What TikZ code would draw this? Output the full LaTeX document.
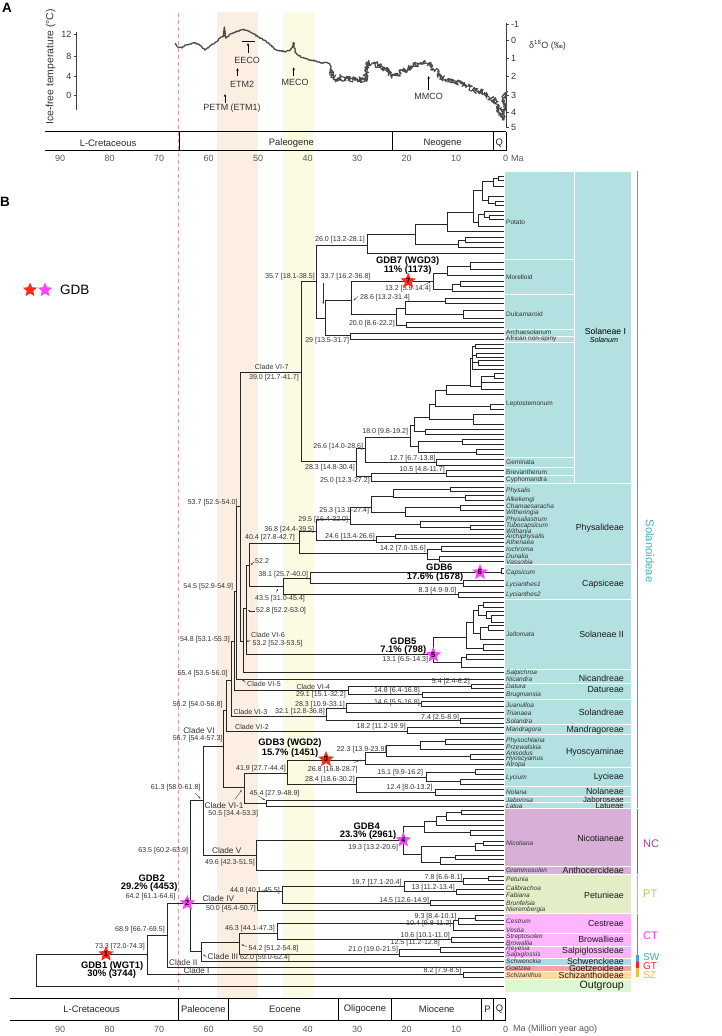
\documentclass[tikz,border=0pt]{standalone}
\usepackage{fontspec}
\setmainfont{Liberation Sans}
\usetikzlibrary{arrows.meta, shapes.geometric, decorations.pathmorphing}
\definecolor{bandorange}{HTML}{FDEEE2}
\definecolor{bandyellow}{HTML}{FBFAE3}
\definecolor{kpgline}{HTML}{E59A9A}
\definecolor{curvegray}{HTML}{4A4A4A}
\definecolor{inkgray}{HTML}{333333}
\definecolor{solbox}{HTML}{B3E0E0}
\definecolor{solbar}{HTML}{3BB4B6}
\definecolor{ncbox}{HTML}{D7AFD7}
\definecolor{ncbar}{HTML}{A83CA8}
\definecolor{ptbox}{HTML}{E3EEC6}
\definecolor{ptbar}{HTML}{A8CC55}
\definecolor{ctbox}{HTML}{FFB4FF}
\definecolor{ctbar}{HTML}{FF33FF}
\definecolor{swbox}{HTML}{AEDAE8}
\definecolor{swbar}{HTML}{35A9DE}
\definecolor{gtbox}{HTML}{F5A3A3}
\definecolor{gtbar}{HTML}{FF2222}
\definecolor{szbox}{HTML}{FDD9A3}
\definecolor{szbar}{HTML}{FDB24A}
\definecolor{outbox}{HTML}{DCF7D2}
\definecolor{starred}{HTML}{FF2A1A}
\definecolor{starmag}{HTML}{FF44FF}
% one bifurcation: parent x, upper y, upper child x, lower y, lower child x
\newcommand{\clade}[5]{\draw[branch] (#3,#2) -| (#1,#4) -- (#5,#4);}
\def\tx{503.5}

\begin{document}
\begin{tikzpicture}[x=1pt, y=-1pt,
    branch/.style={line width=0.75pt, draw=black!85},
    agelab/.style={font=\fontsize{7.1}{8}\selectfont, text=inkgray, inner sep=0pt},
    cladelab/.style={font=\fontsize{8.2}{9}\selectfont, text=inkgray, inner sep=0pt},
    gdblab/.style={font=\bfseries\fontsize{9.4}{10}\selectfont, inner sep=0pt},
    tiplab/.style={font=\fontsize{6.5}{7}\selectfont, text=inkgray, inner sep=0pt, anchor=west},
    tribelab/.style={font=\fontsize{8.8}{9}\selectfont, text=black!90, inner sep=0pt, anchor=east},
    grplab/.style={font=\fontsize{11}{12}\selectfont, inner sep=0pt, anchor=west},
    eralab/.style={font=\fontsize{9.4}{10}\selectfont, text=black!85, inner sep=0pt},
    ticklab/.style={font=\fontsize{9}{10}\selectfont, text=black!65, inner sep=0pt},
    evtlab/.style={font=\fontsize{9}{10}\selectfont, text=inkgray, inner sep=0pt},
    ptr/.style={-{Stealth[length=2.2pt,width=1.8pt]}, line width=0.35pt, draw=black!80},
    evtarrow/.style={-{Stealth[length=3pt,width=2.4pt]}, line width=0.5pt},
    gdbstar/.style={star, star points=5, star point ratio=2.2, inner sep=0pt, minimum size=15pt, font=\bfseries\fontsize{7.5}{7}\selectfont},
    wgdstar/.style={gdbstar, fill=starred},
    sdstar/.style={gdbstar, fill=starmag},
    tribebox/.style={draw=white, line width=0.7pt},
]
    \useasboundingbox (0,0) rectangle (722,1036);
    \def\ma{4.952}
    % Climate bands and K-Pg line
    \fill[bandorange] (216.5,11.7) rectangle (258,998);
    \fill[bandyellow] (282.7,11.7) rectangle (314,998);
    \draw[kpgline, line width=0.8pt, dash pattern=on 4pt off 3pt] (178.6,12.7) -- (178.6,992);

    % ---------------- Panel A ----------------
    \node[font=\bfseries\fontsize{13.5}{14}\selectfont, inner sep=0pt] at (7,8.3) {A};
    \node[font=\fontsize{10.4}{11}\selectfont, text=inkgray, rotate=90, inner sep=0pt] at (50.7,67) {Ice-free temperature (°C)};
    \draw[line width=0.6pt, black!75] (76,32.3) -- (76,110);
    \foreach \yy/\lab in {34.3/12, 56.7/8, 76.3/4, 95.3/0} {
        \draw[line width=0.6pt, black!75] (73.5,\yy) -- (76,\yy);
        \node[ticklab, text=inkgray, anchor=east] at (71.5,\yy) {\lab};
    }
    \draw[line width=0.6pt, black!75] (506,22.7) -- (506,127.3);
    \foreach \yy/\lab in {24/-1, 40.7/0, 58.3/1, 76.7/2, 95.3/3, 112/4, 127.3/5} {
        \draw[line width=0.6pt, black!75] (506,\yy) -- (509,\yy);
        \node[ticklab, text=inkgray, anchor=west] at (511,\yy) {\lab};
    }
    \node[ticklab, text=inkgray, anchor=west] at (529,45) {δ\textsuperscript{18}O (‰)};
    % Temperature curve
    \pgfmathsetseed{11}
    \draw[curvegray, line width=1.3pt, line join=round, decorate, decoration={random steps, segment length=1pt, amplitude=0.6pt}]
        plot coordinates {(175,43.3) (178,47) (182,48) (186,45) (190,44) (193.6,42.7) (198,44) (202,47) (205,50) (209,47) (213,44) (216.7,41.7) (220,38) (223,36) (224.5,27) (225.5,38) (229,35) (233,33) (237,31.7) (241,30) (244,29.3) (248,31) (252,33) (258,36.7) (264,40) (270,45) (276.6,50) (281,51) (285.8,51.7) (290,50) (292.5,47) (293.7,42.7) (295,52) (298,55) (304,58.3) (310,60) (316,61) (322.7,63.3) (326,62.5) (329.6,63.3) (331,68)};
    \draw[curvegray, line width=1.1pt, line join=round, decorate, decoration={random steps, segment length=0.6pt, amplitude=3pt}]
        plot coordinates {(331,68) (334,80) (340,77) (345,79) (350,78.3) (356,80) (360,79) (364,81.7) (366,72) (368.8,63.3) (375,64) (382.6,66.7) (386,70) (392,76.7) (398,74) (405.7,70) (412,66) (419.5,63.3) (424,62) (428.7,63.3) (435,70) (442.6,78.3) (450,80) (461,83.3) (468,86) (474.8,90) (481,92) (488.7,96.7) (494,100) (498,106) (500,113) (502.5,120) (504,105) (505,93)};
    % Climate events
    \draw[line width=0.8pt] (242,41.7) -- (254.5,41.7);
    \draw[evtarrow] (248,52.7) -- (248,43);
    \node[evtlab] at (247,60) {EECO};
    \draw[evtarrow] (237.5,76) -- (237.5,68);
    \node[evtlab] at (242,84.3) {ETM2};
    \draw[evtarrow] (225,103) -- (225,94);
    \node[evtlab] at (232,108.3) {PETM (ETM1)};
    \draw[evtarrow] (293.7,76) -- (293.7,67.3);
    \node[evtlab] at (295,82.3) {MECO};
    \draw[evtarrow] (428.7,90) -- (428.7,76);
    \node[evtlab] at (428.7,96.7) {MMCO};
    % Period bar
    \draw[line width=1.2pt] (44.7,131.7) -- (506,131.7);
    \draw[line width=0.6pt] (44.7,150.7) -- (506,150.7);
    \foreach \xx in {178.9, 391.8, 492.9, 506} {
        \draw[line width=0.6pt] (\xx,131.7) -- (\xx,150.7);
    }
    \node[eralab] at (108,143.3) {L-Cretaceous};
    \node[eralab] at (291.4,143.3) {Paleogene};
    \node[eralab] at (442.6,143.3) {Neogene};
    \node[eralab] at (499.4,143.3) {Q};
    \foreach \v in {0,10,...,90} {
        \node[ticklab] at ({505.7-\ma*\v},158.3) {\v};
    }
    \node[ticklab, anchor=west] at (511,158.3) {Ma};

    % ---------------- Panel B ----------------
    \node[font=\bfseries\fontsize{13.5}{14}\selectfont, inner sep=0pt] at (5,202) {B};
    \node[star, star points=5, star point ratio=2.2, inner sep=0pt, minimum size=15pt, fill=starred] at (30,290) {};
    \node[star, star points=5, star point ratio=2.2, inner sep=0pt, minimum size=15pt, fill=starmag] at (45,290) {};
    \node[font=\fontsize{13.5}{14}\selectfont, inner sep=0pt, anchor=west] at (60,290) {GDB};

    % Tribe boxes
    \filldraw[tribebox, fill=solbox] (504,171) rectangle (574,259);
    \filldraw[tribebox, fill=solbox] (504,259) rectangle (574,294.8);
    \filldraw[tribebox, fill=solbox] (504,294.8) rectangle (574,329);
    \filldraw[tribebox, fill=solbox] (504,329) rectangle (574,336.5);
    \filldraw[tribebox, fill=solbox] (504,336.5) rectangle (574,342.7);
    \filldraw[tribebox, fill=solbox] (504,342.7) rectangle (574,456.9);
    \filldraw[tribebox, fill=solbox] (504,456.9) rectangle (574,467.3);
    \filldraw[tribebox, fill=solbox] (504,467.3) rectangle (574,475);
    \filldraw[tribebox, fill=solbox] (504,475) rectangle (574,483.7);
    \filldraw[tribebox, fill=solbox] (574,171) rectangle (631,483.7);
    \foreach \ya/\yb in {483.7/564.7, 564.7/599.7, 599.7/669.7, 669.7/683, 683/699.5, 699.5/724.5, 724.5/734.7, 734.7/767.3, 767.3/786.5, 786.5/796.5, 796.5/802.8, 802.8/808.3} {
        \filldraw[tribebox, fill=solbox] (504,\ya) rectangle (631,\yb);
    }
    \filldraw[tribebox, fill=ncbox] (504,808.3) rectangle (631,866);
    \filldraw[tribebox, fill=ncbox] (504,866) rectangle (631,874.5);
    \filldraw[tribebox, fill=ptbox] (504,874.5) rectangle (631,913.3);
    \filldraw[tribebox, fill=ctbox] (504,913.3) rectangle (631,933.3);
    \filldraw[tribebox, fill=ctbox] (504,933.3) rectangle (631,946);
    \filldraw[tribebox, fill=ctbox] (504,946) rectangle (631,958);
    \filldraw[tribebox, fill=swbox] (504,958) rectangle (631,965);
    \filldraw[tribebox, fill=gtbox] (504,965) rectangle (631,971.8);
    \filldraw[tribebox, fill=szbox] (504,971.8) rectangle (631,979.3);
    \filldraw[tribebox, fill=outbox] (504,979.3) rectangle (631,992.7);

    % Subfamily bars
    \draw[solbar, line width=1.6pt] (637.5,171) -- (637.5,807.8);
    \draw[ncbar, line width=1.6pt] (637.5,808.8) -- (637.5,874);
    \draw[ptbar, line width=1.6pt] (637.5,875) -- (637.5,913);
    \draw[ctbar, line width=1.6pt] (637.5,914) -- (637.5,955);
    \draw[swbar, line width=2.6pt] (637.5,955) -- (637.5,961.7);
    \draw[gtbar, line width=2.6pt] (637.5,961.7) -- (637.5,968.3);
    \draw[szbar, line width=2.6pt] (637.5,968.3) -- (637.5,976.7);
    \node[font=\fontsize{11.3}{12}\selectfont, text=solbar, rotate=-90, inner sep=0pt] at (650,551) {Solanoideae};
    \node[grplab, text=ncbar] at (643,844) {NC};
    \node[grplab, text=ptbar] at (643,894) {PT};
    \node[grplab, text=ctbar] at (643,936) {CT};
    \node[grplab, text=swbar, font=\fontsize{10}{10}\selectfont] at (643,957.2) {SW};
    \node[grplab, text=gtbar, font=\fontsize{10}{10}\selectfont] at (643,966.2) {GT};
    \node[grplab, text=szbar, font=\fontsize{10}{10}\selectfont] at (643,975.2) {SZ};

    % Outgroup, Clades I-III
    \clade{36}{954}{147.7}{986}{\tx}
    \clade{147.7}{935}{167.7}{974.3}{463.3}
    \clade{463.3}{972.5}{\tx}{977}{\tx}
    \clade{167.7}{903}{190}{967.5}{\tx}
    \clade{190}{800}{203.3}{951.7}{201}
    \draw[branch] (190,903) -- (257.7,903);
    \clade{201}{942.7}{239.3}{961}{\tx}
    \clade{239.3}{933.3}{277.3}{954}{399.3}
    \clade{277.3}{923.5}{453.3}{939.5}{451.7}
    \clade{453.3}{920}{458.3}{930.5}{\tx}
    \clade{458.3}{918}{475}{924}{\tx}
    \clade{475}{915.5}{\tx}{920}{\tx}
    \clade{451.7}{937}{\tx}{942.5}{\tx}
    \clade{399.3}{949.5}{440.7}{956.5}{\tx}
    \clade{440.7}{947}{\tx}{952}{\tx}
    % Clade IV
    \clade{257.7}{891}{282.7}{910.5}{\tx}
    \clade{282.7}{886}{404.3}{903}{430.7}
    \clade{404.3}{881}{463.3}{891.5}{456.7}
    \clade{463.3}{878.5}{488.3}{884.5}{\tx}
    \clade{488.3}{876.8}{\tx}{880.3}{\tx}
    \clade{456.7}{889}{\tx}{894}{\tx}
    \clade{430.7}{900.5}{\tx}{905.5}{\tx}
    % Clade V
    \clade{203.3}{746.7}{223.3}{855.7}{256.7}
    \clade{256.7}{840}{403.3}{870.5}{\tx}
    \clade{403.3}{826}{424.3}{854}{421.7}
    \clade{424.3}{821}{436.7}{832.7}{470}
    \clade{436.7}{816}{446}{825.5}{\tx}
    \clade{446}{812.5}{461.7}{820}{\tx}
    \clade{461.7}{810.5}{\tx}{814.5}{\tx}
    \clade{470}{830}{\tx}{835.5}{\tx}
    \clade{421.7}{846}{475}{862}{440.7}
    \clade{475}{843}{483.3}{850}{\tx}
    \clade{483.3}{841}{\tx}{845}{\tx}
    \clade{440.7}{857.5}{455}{864}{\tx}
    \clade{455}{855.5}{\tx}{859.5}{\tx}
    % Clade VI backbone and VI-1
    \clade{223.3}{710}{226.7}{787.3}{244.3}
    \clade{244.3}{773.3}{287.7}{803}{266}
    \clade{266}{800.5}{\tx}{806}{\tx}
    \clade{287.7}{760}{365}{784}{356.7}
    \clade{365}{752}{386.7}{764}{\tx}
    \clade{386.7}{745}{420}{756.5}{470}
    \clade{420}{741.5}{445}{749.5}{\tx}
    \clade{445}{739}{\tx}{744}{\tx}
    \clade{470}{754}{\tx}{759}{\tx}
    \clade{356.7}{777.3}{426}{792}{435}
    \clade{426}{772}{475}{781.5}{460.7}
    \clade{475}{769.5}{\tx}{774}{\tx}
    \clade{460.7}{779}{\tx}{784.5}{\tx}
    \clade{435}{789.5}{\tx}{795}{\tx}
    % VI-2, VI-3, VI-4, VI-5
    \clade{226.7}{680}{231.7}{731.7}{407.3}
    \clade{407.3}{727.5}{\tx}{733}{\tx}
    \clade{231.7}{641.7}{234.5}{716}{326}
    \clade{326}{708}{346.7}{720.7}{460.7}
    \clade{346.7}{703.5}{421.7}{712}{\tx}
    \clade{421.7}{701.5}{\tx}{706}{\tx}
    \clade{460.7}{718.5}{\tx}{723}{\tx}
    \clade{234.5}{591.7}{236.7}{690.7}{348.3}
    \clade{348.3}{686.3}{471.7}{694.7}{422.7}
    \clade{471.7}{684}{\tx}{688.5}{\tx}
    \clade{422.7}{692.5}{\tx}{697}{\tx}
    \clade{236.7}{506.7}{240.7}{679}{\tx}
    % VI-6
    \clade{240.7}{372.3}{301}{641.7}{243.3}
    \clade{243.3}{608.3}{246}{672.7}{\tx}
    \clade{246}{565}{249.3}{654}{433.3}
    \clade{249.3}{543.3}{299}{586.7}{283.3}
    \clade{433.3}{637}{466}{662}{461.7}
    \clade{466}{622}{473.3}{648}{483.3}
    \clade{473.3}{610}{478.3}{633}{480}
    \clade{478.3}{605}{483.3}{615}{486}
    \clade{483.3}{602.5}{\tx}{607}{\tx}
    \clade{486}{611}{\tx}{618.5}{491}
    \clade{491}{615}{\tx}{622.5}{\tx}
    \clade{480}{627}{488}{639}{\tx}
    \clade{488}{625}{\tx}{630}{\tx}
    \clade{483.3}{644}{\tx}{650}{\tx}
    \clade{461.7}{657}{466.7}{667.5}{\tx}
    \clade{466.7}{654.5}{\tx}{659.5}{\tx}
    \clade{283.3}{578}{310}{594.7}{458.3}
    \clade{310}{572.3}{501}{583}{463.3}
    \clade{501}{568.5}{\tx}{573.5}{\tx}
    \clade{463.3}{580.5}{\tx}{586}{\tx}
    \clade{458.3}{592.5}{\tx}{597}{\tx}
    \clade{299}{531.7}{316.7}{553.3}{427}
    \clade{316.7}{519.3}{350}{540.5}{376}
    \clade{350}{507}{371.7}{524}{420}
    \clade{371.7}{496}{393.3}{512}{405}
    \clade{393.3}{489}{450}{497.8}{465}
    \clade{450}{487}{\tx}{491}{\tx}
    \clade{465}{495.5}{\tx}{500}{\tx}
    \clade{405}{507.5}{460}{516}{\tx}
    \clade{460}{505}{\tx}{510}{\tx}
    \clade{420}{521}{\tx}{527}{470}
    \clade{470}{525}{\tx}{529.5}{\tx}
    \clade{376}{536}{395}{542}{\tx}
    \clade{395}{534}{\tx}{538}{\tx}
    \clade{427}{549}{441}{559}{439}
    \clade{441}{546.5}{\tx}{551}{\tx}
    \clade{439}{556}{\tx}{561.5}{\tx}
    % VI-7 (Solanum)
    \clade{301}{281.7}{316.7}{461.7}{356.7}
    \clade{316.7}{245}{367.3}{318.3}{325}
    \clade{367.3}{234}{415}{253.3}{\tx}
    \clade{415}{224}{447.3}{244}{458.3}
    \clade{447.3}{212}{473.3}{231.5}{\tx}
    \clade{473.3}{190}{482.7}{222}{478}
    \clade{482.7}{181}{493.3}{200}{488}
    \clade{493.3}{178.5}{498.3}{186}{\tx}
    \clade{498.3}{176.5}{\tx}{180.5}{\tx}
    \clade{488}{196.5}{\tx}{203}{495}
    \clade{495}{201}{\tx}{205.5}{\tx}
    \clade{478}{214}{484}{226.5}{\tx}
    \clade{484}{211}{\tx}{217}{489}
    \clade{489}{215}{\tx}{219}{\tx}
    \clade{458.3}{240}{465}{247.7}{\tx}
    \clade{465}{237.5}{\tx}{242.5}{\tx}
    \clade{325}{300}{351.7}{335.5}{350}
    \clade{351.7}{281}{433.3}{314}{396}
    \clade{433.3}{273}{447.3}{289}{452}
    \clade{447.3}{266}{470}{275}{\tx}
    \clade{470}{262}{\tx}{269}{\tx}
    \clade{452}{284}{460}{291}{\tx}
    \clade{460}{281}{\tx}{286.5}{\tx}
    \clade{396}{308}{405}{325.5}{406.7}
    \clade{405}{301}{445}{314}{463}
    \clade{445}{298.5}{\tx}{303.5}{\tx}
    \clade{463}{310}{\tx}{318}{\tx}
    \clade{406.7}{322.5}{\tx}{327.5}{\tx}
    \clade{350}{333.3}{\tx}{339.5}{\tx}
    \clade{356.7}{448.3}{365}{476.7}{371.7}
    \clade{365}{437}{410.7}{462.5}{436.7}
    \clade{436.7}{459.5}{\tx}{465}{\tx}
    \clade{371.7}{473.5}{446.7}{481.5}{\tx}
    \clade{446.7}{470.5}{\tx}{476}{\tx}
    \clade{410.7}{425}{414}{446.5}{418.3}
    \clade{414}{417.5}{429.3}{431.5}{425}
    \clade{425}{429}{\tx}{434}{\tx}
    \clade{429.3}{404}{435}{419.3}{473.3}
    \clade{473.3}{414.5}{\tx}{424.3}{\tx}
    \clade{435}{390}{446.7}{406.7}{490}
    \clade{490}{404}{\tx}{409.3}{\tx}
    \clade{446.7}{385}{470}{394}{\tx}
    \clade{470}{358}{472.7}{386}{481.7}
    \draw[branch] (472.7,346) -- (472.7,369.5) -- (\tx,369.5);
    \draw[branch] (472.7,346) -- (475,346);
    \draw[branch] (472.7,355.3) -- (476.7,355.3);
    \draw[branch] (472.7,362.7) -- (478.3,362.7);
    \clade{475}{344}{\tx}{348.3}{\tx}
    \clade{476.7}{353}{\tx}{357.5}{\tx}
    \clade{478.3}{360.7}{\tx}{365}{\tx}
    \clade{481.7}{376}{494}{389}{\tx}
    \draw[branch] (481.7,382.5) -- (\tx,382.5);
    \clade{494}{373.5}{\tx}{378}{\tx}
    \clade{418.3}{441.5}{462.7}{452}{476.7}
    \clade{462.7}{439}{\tx}{444}{\tx}
    \clade{476.7}{449.5}{\tx}{454.5}{\tx}

    % Node ages (right end of text at node)
    \foreach \x/\y/\lab in {365/240/{26.0 [13.2-28.1]}, 315/276.7/{35.7 [18.1-38.5]}, 395/323.3/{20.0 [8.6-22.2]},
        349.3/340.7/{29 [13.5-31.7]}, 299/377.7/{39.0 [21.7-41.7]}, 408.3/431.7/{18.0 [9.8-19.2]},
        363.3/446.7/{26.6 [14.0-28.6]}, 435.7/458.3/{12.7 [6.7-13.8]}, 355/467.3/{28.3 [14.8-30.4]},
        445/469.3/{10.5 [4.8-11.7]}, 370/480.7/{25.0 [12.3-27.2]}, 237.7/502.3/{53.7 [52.5-54.0]},
        369.3/510.7/{25.3 [13.1-27.4]}, 348.3/519.3/{29.5 [16.4-32.0]}, 314.3/529.3/{36.8 [24.4-39.5]},
        295/537.3/{40.4 [27.8-42.7]}, 375/536.7/{24.6 [13.4-26.6]}, 426/549/{14.2 [7.0-15.6]},
        308.3/574.3/{38.1 [25.7-40.0]}, 233.3/586.7/{54.5 [52.9-54.9]}, 456.7/591/{8.3 [4.9-9.0]},
        230/640/{54.8 [53.1-55.3]}, 428.3/660/{13.1 [6.5-14.3]}, 227.7/674/{55.4 [53.5-56.0]},
        470/681.7/{5.4 [2.4-6.2]}, 420/690.7/{14.8 [6.4-16.8]}, 346/695/{29.1 [15.1-32.2]},
        420/702.7/{14.6 [5.5-16.8]}, 222.7/705/{56.2 [54.0-56.8]}, 345/705/{28.3 [10.9-33.1]},
        325/711.7/{32.1 [12.8-36.8]}, 459.3/717.3/{7.4 [2.5-8.9]}, 406/726.7/{18.2 [11.2-19.9]},
        222.7/738.3/{56.7 [54.4-57.3]}, 386.7/750/{22.3 [13.9-23.9]}, 286/768.3/{41.9 [27.7-44.4]},
        423.3/772.7/{15.1 [9.9-16.2]}, 355/780/{28.4 [18.6-30.2]}, 432.7/787.7/{12.4 [8.0-13.2]},
        200.7/788/{61.3 [58.0-61.8]}, 398.3/847.7/{19.3 [13.2-20.6]}, 188.3/850.7/{63.5 [60.2-63.9]},
        255/862.3/{49.6 [42.3-51.5]}, 462.7/877.7/{7.8 [6.6-8.1]}, 401.7/882.3/{19.7 [17.1-20.4]},
        455/887.7/{13 [11.2-13.4]}, 280/891/{44.8 [40.1-45.5]}, 175.7/896.7/{64.2 [61.1-64.6]},
        429.3/900.7/{14.5 [12.6-14.9]}, 256/908.3/{50.0 [45.4-50.7]}, 456.7/916.7/{9.3 [8.4-10.1]},
        451.7/923.3/{10.4 [9.8-11.2]}, 275/928.3/{46.3 [44.1-47.3]}, 165/929.3/{68.9 [66.7-69.5]},
        450/936/{10.6 [10.1-11.0]}, 440/942.7/{12.5 [11.2-12.8]}, 145/946.7/{73.3 [72.0-74.3]},
        398.3/949.3/{21.0 [19.0-21.5]}, 461.7/971/{8.2 [7.9-8.5]}} {
        \node[agelab, anchor=east] at (\x,\y) {\lab};
    }
    % Ages placed beside their node, with pointers
    \node[agelab, anchor=west] at (320.5,276.7) {33.7 [16.2-36.8]};
    \draw[ptr] (323.3,283) -- (323.3,304);
    \node[agelab, anchor=west] at (360,297.3) {28.6 [13.2-31.4]};
    \draw[ptr] (358,296.5) -- (353.5,300.5);
    \node[agelab, anchor=east] at (431,289) {13.2 [5.9-14.4]};
    \draw[ptr] (423.3,285.5) -- (430.5,281.8);
    \node[agelab, anchor=west] at (255,561) {52.2};
    \draw[ptr] (254.5,561.5) -- (250.8,564.8);
    \node[agelab, anchor=west] at (255,598.3) {43.5 [31.0-45.4]};
    \draw[ptr] (276.3,592.5) -- (278,588.8);
    \node[agelab, anchor=west] at (256,610.7) {52.8 [52.2-53.0]};
    \draw[ptr] (254.5,610.7) -- (248,610.7);
    \node[agelab, anchor=west] at (251,635) {Clade VI-6};
    \node[agelab, anchor=west] at (252.5,643.3) {53.2 [52.3-53.5]};
    \draw[ptr] (250.5,640.5) -- (246.5,641.5);
    \node[agelab, anchor=west] at (247,684) {Clade VI-5};
    \draw[ptr] (246,682.5) -- (242.2,679.8);
    \node[agelab, anchor=west] at (307.7,769.3) {26.8 [16.8-28.7]};
    \draw[ptr] (354,762.5) -- (362,760);
    \node[agelab, anchor=west] at (249.5,793.3) {45.4 [27.9-48.9]};
    \draw[ptr] (258.3,796) -- (265,800);
    \node[agelab, anchor=west] at (248.5,948.3) {54.2 [51.2-54.8]};
    \draw[ptr] (246.7,946.7) -- (241.5,944.5);
    \node[agelab, anchor=west] at (207.5,957.7) {{\fontsize{8.2}{9}\selectfont Clade III} 62.0 [59.0-62.4]};
    \draw[ptr] (206.7,957.3) -- (203.2,954.5);
    \draw[ptr] (195,793.3) -- (200.5,798.5);
    \draw[ptr] (235,799.3) -- (241.7,790);

    % Clade names
    \node[agelab] at (271.7,366.7) {Clade VI-7};
    \node[agelab] at (313.3,686.7) {Clade VI-4};
    \node[agelab, anchor=west] at (233.5,711.7) {Clade VI-3};
    \node[agelab, anchor=west] at (235,726.7) {Clade VI-2};
    \node[cladelab] at (199,730.7) {Clade VI};
    \node[cladelab] at (224,806) {Clade VI-1};
    \node[agelab] at (233.3,814) {50.5 [34.4-53.3]};
    \node[cladelab] at (226.7,850.7) {Clade V};
    \node[cladelab] at (218.3,898.3) {Clade IV};
    \node[cladelab] at (183.3,962.7) {Clade II};
    \node[cladelab] at (196.5,970.7) {Clade I};

    % GDB events
    \node[gdblab] at (407.7,261.3) {GDB7 (WGD3)};
    \node[gdblab] at (407.7,270) {11\% (1173)};
    \node[gdblab] at (439.3,567.7) {GDB6};
    \node[gdblab] at (435,577.5) {17.6\% (1678)};
    \node[gdblab] at (403.3,641) {GDB5};
    \node[gdblab] at (403.3,650) {7.1\% (798)};
    \node[gdblab] at (290,743.3) {GDB3 (WGD2)};
    \node[gdblab] at (290,753.5) {15.7\% (1451)};
    \node[gdblab] at (366.7,826.3) {GDB4};
    \node[gdblab] at (368,834.7) {23.3\% (2961)};
    \node[gdblab] at (151.7,878.3) {GDB2};
    \node[gdblab] at (149.2,887.3) {29.2\% (4453)};
    \node[gdblab] at (112.2,966) {GDB1 (WGT1)};
    \node[gdblab] at (111.7,974) {30\% (3744)};
    \node[wgdstar] at (408.3,281) {7};
    \node[sdstar] at (480,572.3) {6};
    \node[sdstar] at (433.3,655) {5};
    \node[wgdstar] at (326,759.3) {3};
    \node[sdstar] at (403.3,840) {4};
    \node[sdstar] at (187.3,903) {2};
    \node[wgdstar] at (106,954) {1};

    % Tip labels
    \foreach \y/\nm in {222.3/Potato, 276.7/Morelloid, 314.3/Dulcamaroid, 331.7/Archaesolanum, 339/African non-spiny,
        403.7/Leptostemonum, 462/Geminata, 472.3/Brevantherum, 479.7/Cyphomandra} {
        \node[tiplab] at (506,\y) {\nm};
    }
    \foreach \y/\nm in {491/Physalis, 500.3/Alkekengi, 506.3/Chamaesaracha, 513.3/Witheringia, 519.7/Physaliastrum,
        525.7/Tubocapsicum, 531.4/Withania, 536.8/Archiphysalis, 542.2/Athenaea, 548.7/Iochroma, 555.7/Dunalia,
        561.7/Vassobia, 572.7/Capsicum, 585.3/Lycianthes1, 595/Lycianthes2, 634/Jaltomata, 672.7/Salpichroa,
        678.7/Nicandra, 686/Datura, 695.3/Brugmansia, 705.3/Juanulloa, 713/Trianaea, 720.7/Solandra,
        730.3/Mandragora, 740.7/Physochlaina, 747.3/Przewalskia, 753.3/Anisodus, 758.7/Hyoscyamus,
        764.7/Atropa, 778.3/Lycium, 791.7/Nolana, 800/Jaborosa, 806/Latua, 842.7/Nicotiana,
        870.3/Grammosolen, 879.3/Petunia, 888.3/Calibrachoa, 895/Fabiana, 903.3/Brunfelsia,
        910/Nierembergia, 921.7/Cestrum, 930/Vestia, 936.7/Streptosolen, 942.7/Browallia, 949/Reyesia,
        955.3/Salpiglossis, 961/Schwenckia, 968/Goetzea, 975.3/Schizanthus} {
        \node[tiplab] at (506,\y) {\itshape\nm};
    }
    % Tribe labels
    \node[font=\fontsize{8.6}{9}\selectfont, inner sep=0pt] at (605.5,331.7) {Solaneae I};
    \node[font=\itshape\fontsize{7.2}{8}\selectfont, inner sep=0pt] at (604,339.5) {Solanum};
    \foreach \y/\nm in {528.3/Physalideae, 584/Capsiceae, 634/Solaneae II, 678.7/Nicandreae, 690/Datureae,
        712.7/Solandreae, 730.3/Mandragoreae, 752.7/Hyoscyaminae, 777.7/Lycieae, 791.7/Nolaneae,
        838.3/Nicotianeae, 870.3/Anthocercideae, 895/Petunieae,
        923.3/Cestreae, 939/Browallieae, 951.7/Salpiglossideae, 961.5/Schwenckieae, 968.3/Goetzeoideae,
        975.7/Schizanthoideae} {
        \node[tribelab] at (624,\y) {\nm};
    }
    \node[tribelab, font=\fontsize{7.8}{8}\selectfont] at (624,799.6) {Jaboroseae};
    \node[tribelab, font=\fontsize{7.8}{8}\selectfont] at (624,806.2) {Latueae};
    \node[tribelab, font=\fontsize{10.6}{11}\selectfont] at (624,986) {Outgroup};

    % Epoch bar
    \draw[line width=0.8pt] (10,998.3) -- (506,998.3);
    \draw[line width=0.6pt] (10,1020) -- (506,1020);
    \foreach \xx in {178.3, 228.3, 338.3, 391.7, 481.7, 493.3, 505.7} {
        \draw[line width=0.6pt] (\xx,998.3) -- (\xx,1020);
    }
    \node[eralab] at (91.7,1009.3) {L-Cretaceous};
    \node[eralab] at (203.3,1009.3) {Paleocene};
    \node[eralab] at (285,1009.3) {Eocene};
    \node[eralab] at (365,1009.3) {Oligocene};
    \node[eralab] at (436.7,1009.3) {Miocene};
    \node[eralab] at (487.5,1009.3) {P};
    \node[eralab] at (499.5,1009.3) {Q};
    \foreach \v in {0,10,...,90} {
        \node[ticklab] at ({505.7-\ma*\v},1029.3) {\v};
    }
    \node[ticklab, anchor=west] at (513,1029.3) {Ma (Million year ago)};
\end{tikzpicture}
\end{document}
